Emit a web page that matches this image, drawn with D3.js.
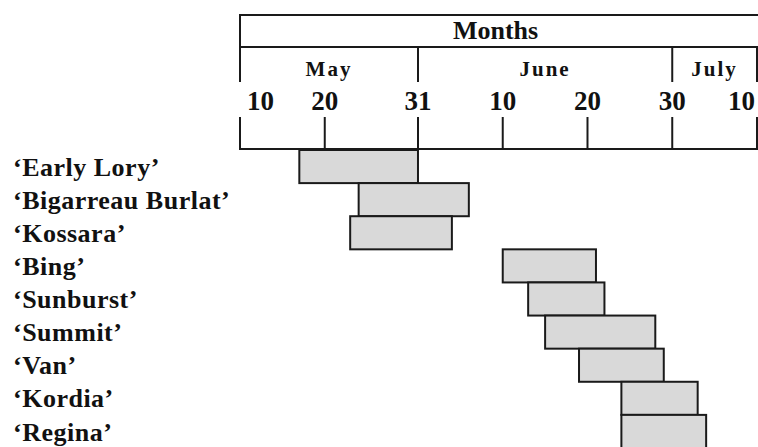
<!DOCTYPE html>
<html>
<head>
<meta charset="utf-8">
<script src="https://cdn.jsdelivr.net/npm/d3@7"></script>
<style>
  body { margin: 0; background: #fff; }
  text { font-family: "Liberation Serif", "Times New Roman", serif; font-weight: bold; fill: #111; }
</style>
</head>
<body>
<div id="chart-area"></div>
<script>
// cherry varieties and their ripening period (month-day)
const varieties = ["‘Early Lory’", "‘Bigarreau Burlat’", "‘Kossara’", "‘Bing’", "‘Sunburst’",
                   "‘Summit’", "‘Van’", "‘Kordia’", "‘Regina’"]
const starts = ["05-17", "05-24", "05-23", "06-10", "06-13", "06-15", "06-19", "06-24", "06-24"]
const ends   = ["05-31", "06-06", "06-04", "06-21", "06-22", "06-28", "06-29", "07-03", "07-04"]

// header
const title = "Months"
const months = ["May", "June", "July"]
const monthBounds = ["05-10", "05-31", "06-30", "07-10"]
const ticks = ["05-10", "05-20", "05-31", "06-10", "06-20", "06-30", "07-10"]
const tickLabels = ["10", "20", "31", "10", "20", "30", "10"]

const parse = d3.timeParse("%m-%d")

const svg = d3.select("#chart-area").append("svg").attr("width", 758).attr("height", 447)

const x = d3.scaleTime()
  .domain([parse(ticks[0]), parse(ticks[ticks.length - 1])])
  .range([240, 757])

const y = d3.scaleBand()
  .domain(varieties)
  .range([150, 448])

const x0 = x.range()[0]
const x1 = x.range()[1]
const line = "#1a1a1a"

// header box lines
const hl = [15, 47, 149]
svg.selectAll(".hline").data(hl).enter()
  .append("line")
  .attr("x1", x0 - 1).attr("x2", 758)
  .attr("y1", d => d).attr("y2", d => d)
  .attr("stroke", line).attr("stroke-width", 2)

// left border of the title row
svg.append("line")
  .attr("x1", x0).attr("x2", x0).attr("y1", 15).attr("y2", 47)
  .attr("stroke", line).attr("stroke-width", 2)

// month separators
svg.selectAll(".msep").data(monthBounds).enter()
  .append("line")
  .attr("x1", d => x(parse(d))).attr("x2", d => x(parse(d)))
  .attr("y1", 47).attr("y2", 82)
  .attr("stroke", line).attr("stroke-width", 2)

// tick marks
svg.selectAll(".tick").data(ticks).enter()
  .append("line")
  .attr("x1", d => x(parse(d))).attr("x2", d => x(parse(d)))
  .attr("y1", 117).attr("y2", 149)
  .attr("stroke", line).attr("stroke-width", 2)

svg.append("text")
  .attr("x", (x0 + x1) / 2 - 3)
  .attr("y", 39)
  .attr("text-anchor", "middle")
  .attr("font-size", 26)
  .text(title)

svg.selectAll(".month").data(months).enter()
  .append("text")
  .attr("x", (d, i) => (x(parse(monthBounds[i])) + x(parse(monthBounds[i + 1]))) / 2)
  .attr("y", 76)
  .attr("text-anchor", "middle")
  .attr("font-size", 21)
  .attr("letter-spacing", 2)
  .text(d => d)

svg.selectAll(".tlabel").data(ticks).enter()
  .append("text")
  .attr("x", (d, i) => {
    if (i === 0) return x(parse(d)) + 7
    if (i === ticks.length - 1) return x(parse(d)) - 2
    return x(parse(d))
  })
  .attr("y", 110)
  .attr("text-anchor", (d, i) => {
    if (i === 0) return "start"
    if (i === ticks.length - 1) return "end"
    return "middle"
  })
  .attr("font-size", 27)
  .text((d, i) => tickLabels[i])

// bars
svg.selectAll(".bar").data(varieties).enter()
  .append("rect")
  .attr("x", (d, i) => x(parse(starts[i])))
  .attr("y", d => y(d))
  .attr("width", (d, i) => x(parse(ends[i])) - x(parse(starts[i])))
  .attr("height", y.bandwidth())
  .attr("fill", "#d9d9d9")
  .attr("stroke", line)
  .attr("stroke-width", 2)

// variety names
svg.selectAll(".name").data(varieties).enter()
  .append("text")
  .attr("x", 13)
  .attr("y", d => y(d) + y.bandwidth() / 2)
  .attr("dy", "0.35em")
  .attr("font-size", 26)
  .attr("letter-spacing", 0.5)
  .text(d => d)
</script>
</body>
</html>
